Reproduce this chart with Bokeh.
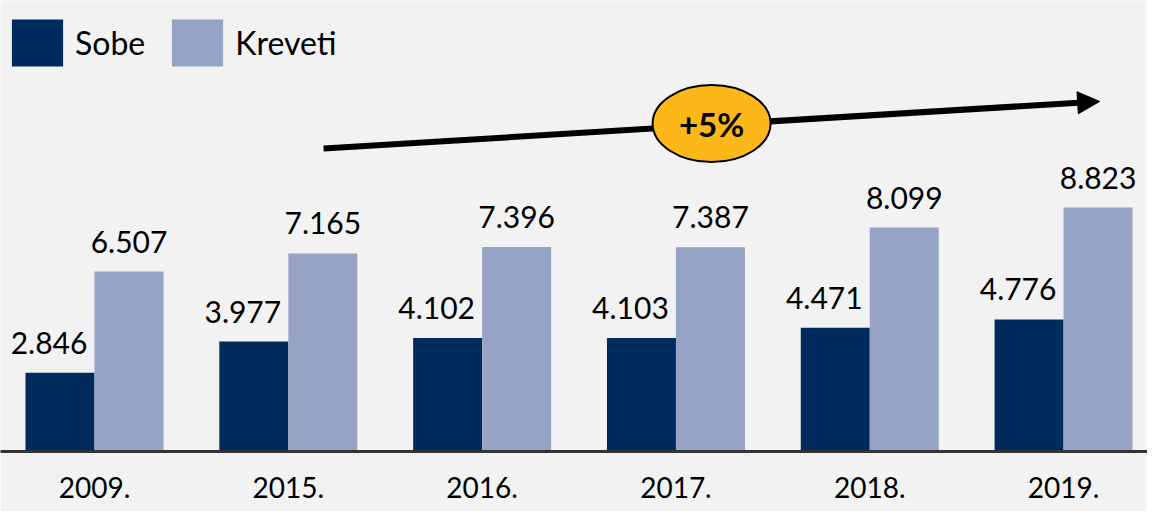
from bokeh.plotting import figure
from bokeh.models import Range1d, FixedTicker, Legend, LegendItem, Arrow, NormalHead
from bokeh.core.properties import value
from bokeh.embed import file_html
from bokeh.resources import INLINE

# ---- data ----
years = ["2009.", "2015.", "2016.", "2017.", "2018.", "2019."]
sobe = [2.846, 3.977, 4.102, 4.103, 4.471, 4.776]
kreveti = [6.507, 7.165, 7.396, 7.387, 8.099, 8.823]
growth_label = "+5%"

# ---- styling ----
FONT = "Lato"
BG = "#F2F2F2"
C_SOBE = "#002B5C"
C_KREV = "#96A3C4"
BAR_W = 0.356
OFF = 0.178

idx = list(range(len(years)))
x_sobe = [i - OFF for i in idx]
x_krev = [i + OFF for i in idx]
lab_sobe = [f"{v:.3f}" for v in sobe]
lab_krev = [f"{v:.3f}" for v in kreveti]

p = figure(frame_width=1147, frame_height=451,
           x_range=Range1d(-0.485, 5.433), y_range=Range1d(0, 16.31),
           output_backend="svg", toolbar_location=None, y_axis_location=None,
           min_border_left=0, min_border_right=0, min_border_top=0, min_border_bottom=60)
p.background_fill_color = BG
p.border_fill_color = BG
p.outline_line_color = None
p.xgrid.visible = False
p.ygrid.visible = False

r1 = p.vbar(x=x_sobe, top=sobe, width=BAR_W, fill_color=C_SOBE, line_color=None)
r2 = p.vbar(x=x_krev, top=kreveti, width=BAR_W, fill_color=C_KREV, line_color=None)

p.text(x=x_sobe, y=sobe, text=lab_sobe, text_font=value(FONT), text_font_size="30px",
       text_align="center", text_baseline="alphabetic", y_offset=-30, x_offset=-11,
       text_color="black")
p.text(x=x_krev, y=kreveti, text=lab_krev, text_font=value(FONT), text_font_size="30px",
       text_align="center", text_baseline="alphabetic", y_offset=-30,
       text_color="black")

# x axis
xa = p.xaxis[0]
xa.ticker = FixedTicker(ticks=idx)
xa.major_label_overrides = {i: y for i, y in zip(idx, years)}
xa.axis_line_color = "#333333"
xa.axis_line_width = 3
xa.major_tick_line_color = None
xa.minor_tick_line_color = None
xa.major_tick_out = 0
xa.major_label_standoff = 25
xa.major_label_text_font = FONT
xa.major_label_text_font_size = "28px"
xa.major_label_text_color = "black"

# trend arrow with growth badge
arrow = Arrow(end=NormalHead(size=22, fill_color="black", line_color="black"),
              x_start=1.182, y_start=10.96, x_end=5.186, y_end=12.66,
              line_width=6, line_color="black", level="underlay")
p.add_layout(arrow)
p.ellipse(x=[3.184], y=[11.86], width=118, height=77,
          width_units="screen", height_units="screen",
          fill_color="#FCB718", line_color="black", line_width=2)
p.text(x=[3.184], y=[11.86], text=[growth_label], text_font=value(FONT),
       text_font_size="33px", text_font_style="bold", text_align="center",
       text_baseline="middle", text_color="black")

legend = Legend(items=[LegendItem(label="Sobe", renderers=[r1]),
                       LegendItem(label="Kreveti", renderers=[r2])],
                orientation="horizontal", location=(5, 379),
                glyph_width=64, glyph_height=59, label_standoff=6, spacing=20,
                padding=0, margin=0, border_line_color=None,
                background_fill_alpha=0, label_text_font=FONT,
                label_text_font_size="32px", label_text_color="black")
p.add_layout(legend)

open("out.html", "w").write(file_html(p, INLINE))
